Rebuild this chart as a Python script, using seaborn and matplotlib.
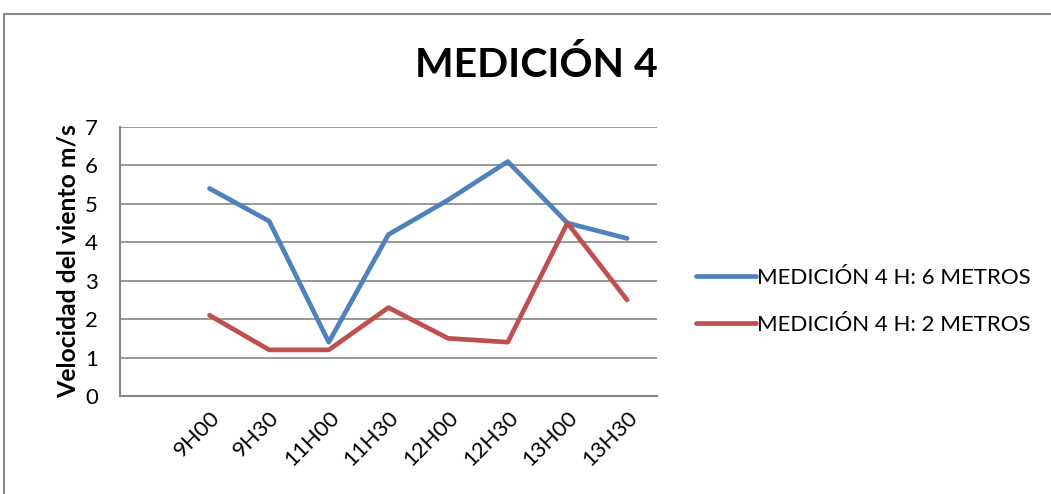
import pandas as pd
import seaborn as sns
import matplotlib.pyplot as plt
from matplotlib.patches import Rectangle

horas = ['9H00', '9H30', '11H00', '11H30', '12H00', '12H30', '13H00', '13H30']
seis_metros = [5.4, 4.55, 1.4, 4.2, 5.1, 6.1, 4.5, 4.1]
dos_metros = [2.1, 1.2, 1.2, 2.3, 1.5, 1.4, 4.5, 2.5]
serie_6 = 'MEDICIÓN 4 H: 6 METROS'
serie_2 = 'MEDICIÓN 4 H: 2 METROS'

df = pd.concat([
    pd.DataFrame({'Hora': horas, 'Velocidad': seis_metros, 'Serie': serie_6}),
    pd.DataFrame({'Hora': horas, 'Velocidad': dos_metros, 'Serie': serie_2}),
])

sns.set_style('white')
plt.rcParams['font.family'] = ['Lato', 'DejaVu Sans']
plt.rcParams['text.color'] = 'black'
plt.rcParams['xtick.color'] = 'black'
plt.rcParams['ytick.color'] = 'black'
plt.rcParams['axes.labelcolor'] = 'black'

fig = plt.figure(figsize=(10.51, 4.94), dpi=100)
ax = fig.add_axes([0.1142, 0.1984, 0.5108, 0.5446])

sns.lineplot(data=df, x='Hora', y='Velocidad', hue='Serie', sort=False,
             palette={serie_6: '#4F81BD', serie_2: '#C0504D'},
             linewidth=3.4, ax=ax)

ax.set_xlim(-1.5, 7.5)
ax.set_ylim(0, 7)
ax.set_yticks(range(0, 8))
ax.yaxis.grid(True, color='#868686', linewidth=1.2)
ax.xaxis.grid(False)
for s in ['top', 'right']:
    ax.spines[s].set_visible(False)
for s in ['left', 'bottom']:
    ax.spines[s].set_color('#868686')
    ax.spines[s].set_linewidth(1.5)
ax.tick_params(length=0, labelsize=16)
ax.tick_params(axis='x', pad=8)
ax.tick_params(axis='y', pad=16)
plt.setp(ax.get_xticklabels(), rotation=45, ha='right', rotation_mode='anchor')
ax.set_xlabel('')
ax.set_ylabel('Velocidad del viento m/s', fontsize=17.8, fontweight='bold', labelpad=4)

fig.text(0.51, 0.868, 'MEDICIÓN 4', fontsize=29.5, fontweight='bold', ha='center', va='center')

ax.legend(loc='center left', bbox_to_anchor=(0.643, 0.39), bbox_transform=fig.transFigure,
          frameon=False, fontsize=16, handlelength=2.7, handletextpad=0.05, labelspacing=1.2)

fig.patches.append(Rectangle((4 / 1051, -0.1), 1.2, (494 - 14) / 494 + 0.1,
                             transform=fig.transFigure, fill=False,
                             edgecolor='#868686', linewidth=1.5))

plt.savefig('out.png', dpi=100)
